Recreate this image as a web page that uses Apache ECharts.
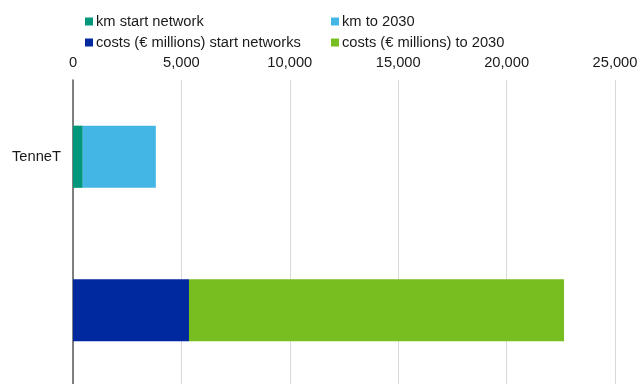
<!DOCTYPE html>
<html><head><meta charset="utf-8">
<script src="https://cdn.jsdelivr.net/npm/echarts@6/dist/echarts.min.js"></script>
<style>html,body{margin:0;padding:0;background:#fff}#c{width:637px;height:384px}</style>
</head><body><div id="c"></div>
<script>
const categories = ['TenneT', ''];
const seriesNames = ['km start network', 'km to 2030', 'costs (\u20ac millions) start networks', 'costs (\u20ac millions) to 2030'];
const kmStart = [450, null];
const kmTo2030 = [3370, null];
const costsStart = [null, 5350];
const costsTo2030 = [null, 17300];
const xTicks = [0, 5000, 10000, 15000, 20000, 25000];
const colors = ['#00977A', '#44B6E5', '#0029A0', '#79BE21'];

const chart = echarts.init(document.getElementById('c'), null, {renderer: 'canvas'});
const font = {fontFamily: 'Liberation Sans, Arial, sans-serif', fontSize: 14.7, color: '#1a1a1a'};
const legendPos = [[80, 9], [326, 9], [80, 30], [326, 30]];
const dataArr = [kmStart, kmTo2030, costsStart, costsTo2030];
chart.setOption({
  animation: false,
  color: colors,
  legend: seriesNames.map((n, i) => ({
    data: [n], left: legendPos[i][0], top: legendPos[i][1],
    icon: 'rect', itemWidth: 8, itemHeight: 8, itemGap: 0,
    textStyle: Object.assign({}, font, {padding: [0, 0, 0, -2]})
  })),
  grid: {left: 73, right: 22, top: 80, height: 307, containLabel: false, outerBoundsMode: 'none'},
  xAxis: {
    type: 'value', position: 'top', min: xTicks[0], max: xTicks[xTicks.length - 1], interval: 5000,
    axisLabel: Object.assign({}, font, {margin: 10, formatter: v => v.toLocaleString('en-US')}),
    axisLine: {show: false}, axisTick: {show: false},
    splitLine: {show: true, lineStyle: {color: '#d9d9d9', width: 1}}
  },
  yAxis: {
    type: 'category', data: categories, inverse: true,
    axisLine: {show: true, lineStyle: {color: '#595959', width: 1.5}},
    axisTick: {show: false},
    axisLabel: Object.assign({}, font, {margin: 12})
  },
  series: seriesNames.map((n, i) => ({
    name: n, type: 'bar', stack: 'all', data: dataArr[i], barWidth: '40.5%'
  }))
});
</script></body></html>
